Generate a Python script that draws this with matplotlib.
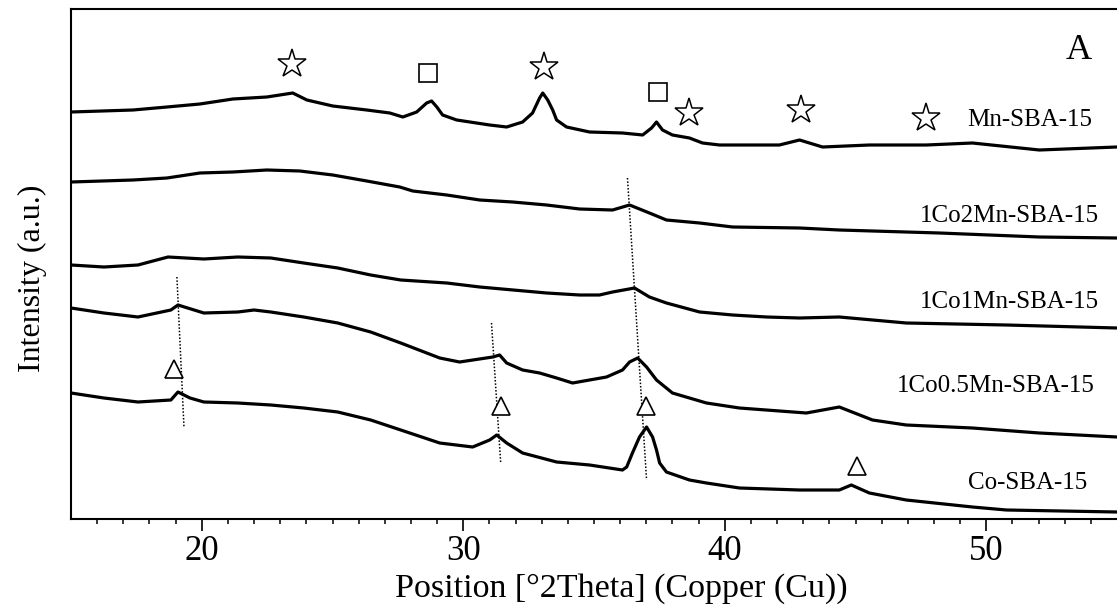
# IMPORTS
import numpy as np
import matplotlib
matplotlib.use('Agg')
import matplotlib.pyplot as plt

plt.rcParams['font.family'] = ['Liberation Serif', 'DejaVu Serif']

# DATA (2theta in degrees, intensity in a.u. with the stacking offset already in)
mn_theta = [15.00, 17.37, 18.67, 19.93, 21.19, 22.49, 23.48, 24.02, 25.01, 26.31,
            27.19, 27.69, 28.22, 28.60, 28.79, 28.99, 29.21, 29.75, 31.01, 31.66,
            32.27, 32.65, 32.92, 33.04, 33.23, 33.42, 33.57, 33.95, 34.83, 36.09,
            36.86, 37.20, 37.39, 37.62, 38.00, 38.65, 39.15, 39.80, 42.09, 42.86,
            43.74, 45.53, 47.71, 49.47, 52.03, 55.00]
mn_int = [407, 409, 412, 415, 420, 422, 426, 419, 413, 409,
          406, 402, 407, 416, 418, 412, 404, 399, 394, 392,
          397, 406, 421, 426, 419, 409, 399, 392, 387, 386,
          384, 391, 397, 389, 384, 381, 376, 374, 374, 379,
          372, 374, 374, 376, 369, 372]

co2mn_theta = [15.00, 17.37, 18.67, 19.93, 21.19, 22.49, 23.75, 25.01, 26.31, 27.57,
               28.07, 29.37, 30.63, 31.89, 33.19, 34.45, 35.71, 36.36, 37.12, 37.77,
               39.04, 40.30, 42.86, 44.38, 48.21, 52.03, 55.00]
co2mn_int = [337, 339, 341, 346, 347, 349, 348, 344, 338, 332,
             328, 324, 319, 317, 314, 310, 309, 314, 306, 299,
             296, 292, 291, 289, 286, 282, 281]

co1mn_theta = [15.00, 16.26, 17.56, 18.71, 20.08, 21.38, 22.64, 23.90, 25.20, 26.46,
               27.61, 29.37, 30.63, 33.19, 34.45, 35.21, 35.71, 36.55, 37.12, 37.77,
               39.04, 40.30, 41.60, 42.86, 44.38, 46.94, 50.77, 55.00]
co1mn_int = [254, 252, 254, 262, 260, 262, 261, 256, 251, 244,
             239, 236, 232, 226, 224, 224, 227, 231, 222, 216,
             207, 204, 202, 201, 202, 196, 194, 191]

co05mn_theta = [15.00, 16.26, 17.56, 18.82, 19.09, 20.08, 21.38, 22.00, 22.64, 23.90,
                25.20, 26.46, 27.61, 29.10, 29.86, 31.13, 31.39, 31.66, 32.27, 32.92,
                33.57, 34.18, 34.83, 35.48, 36.09, 36.36, 36.67, 37.01, 37.39, 38.00,
                39.30, 40.56, 43.12, 44.38, 45.65, 46.94, 49.47, 52.03, 55.00]
co05mn_int = [211, 206, 202, 209, 214, 206, 207, 209, 207, 202,
              196, 187, 176, 161, 157, 162, 164, 156, 149, 146,
              141, 136, 139, 142, 149, 157, 161, 152, 139, 126,
              116, 111, 106, 112, 99, 94, 91, 86, 82]

co_theta = [15.00, 16.26, 17.56, 18.82, 19.09, 19.55, 20.08, 21.38, 22.64, 23.90,
            25.20, 26.46, 27.61, 29.10, 30.36, 31.01, 31.28, 31.66, 32.27, 33.57,
            34.83, 36.09, 36.25, 36.47, 36.74, 37.01, 37.24, 37.39, 37.51, 37.77,
            38.65, 39.30, 40.56, 42.86, 44.38, 44.84, 45.53, 46.94, 49.47, 50.77,
            55.00]
co_int = [126, 121, 117, 119, 127, 121, 117, 116, 114, 111,
          107, 99, 89, 76, 72, 79, 84, 76, 66, 57,
          54, 49, 52, 66, 82, 92, 82, 69, 56, 47,
          39, 36, 31, 29, 29, 34, 26, 19, 12, 9,
          7]

sample_names = ['Mn-SBA-15', '1Co2Mn-SBA-15', '1Co1Mn-SBA-15', '1Co0.5Mn-SBA-15', 'Co-SBA-15']
name_x = [54.05, 54.32, 54.32, 54.13, 53.86]
name_y = [393, 297, 211, 127, 30]

# phase markers
star_x = [23.44, 33.07, 38.62, 42.90, 47.71]
star_y = [455, 452, 406, 409, 401]
square_x = [28.64, 37.43]
square_y = [446, 427]
tri_x = [18.94, 31.43, 36.98, 45.07]
tri_y = [150, 113, 113, 53]

# dotted guide lines (start, end)
guide_x = [(19.05, 19.32), (31.08, 31.43), (36.28, 37.01)]
guide_y = [(242, 92), (196, 57), (341, 39)]

#####
fig = plt.figure(figsize=(11.17, 6.12), dpi=100)
ax = fig.add_axes([71 / 1117, 93 / 612, 1046 / 1117, 510 / 612])

for th, it in [(mn_theta, mn_int), (co2mn_theta, co2mn_int), (co1mn_theta, co1mn_int),
               (co05mn_theta, co05mn_int), (co_theta, co_int)]:
    ax.plot(th, it, color='black', lw=2.3, solid_joinstyle='round')

for (x0, x1), (y0, y1) in zip(guide_x, guide_y):
    ax.plot([x0, x1], [y0, y1], color='black', lw=1.1, ls=(0, (1, 1.2)))

ax.plot(star_x, star_y, ls='none', marker='*', ms=21, mfc='white', mec='black', mew=1.1)
ax.plot(square_x, square_y, ls='none', marker='s', ms=13, mfc='white', mec='black', mew=1.2)
ax.plot(tri_x, tri_y, ls='none', marker='^', ms=13, mfc='white', mec='black', mew=1.2)

for name, x, y in zip(sample_names, name_x, name_y):
    ax.text(x, y, name, ha='right', va='baseline', fontsize=18)
ax.text(54.05, 460, 'A', ha='right', va='baseline', fontsize=26)

ax.set_xlim(15, 55)
ax.set_ylim(0, 510)
ax.set_xticks([20, 30, 40, 50])
ax.set_xticks(np.arange(16, 55, 1), minor=True)
ax.set_yticks([])
ax.tick_params(axis='x', which='major', length=8.5, width=1.2, labelsize=25, pad=3)
ax.tick_params(axis='x', which='minor', length=3.8, width=1.1)
ax.spines['right'].set_visible(False)
for s in ['left', 'top', 'bottom']:
    ax.spines[s].set_linewidth(1.5)

fig.text(621.5 / 1117, 15 / 612, 'Position [°2Theta] (Copper (Cu))', ha='center', va='baseline', fontsize=24.5)
fig.text(32 / 1117, 334 / 612, 'Intensity (a.u.)', ha='center', va='center', rotation=90, fontsize=23)

plt.savefig('out.png', dpi=100)
